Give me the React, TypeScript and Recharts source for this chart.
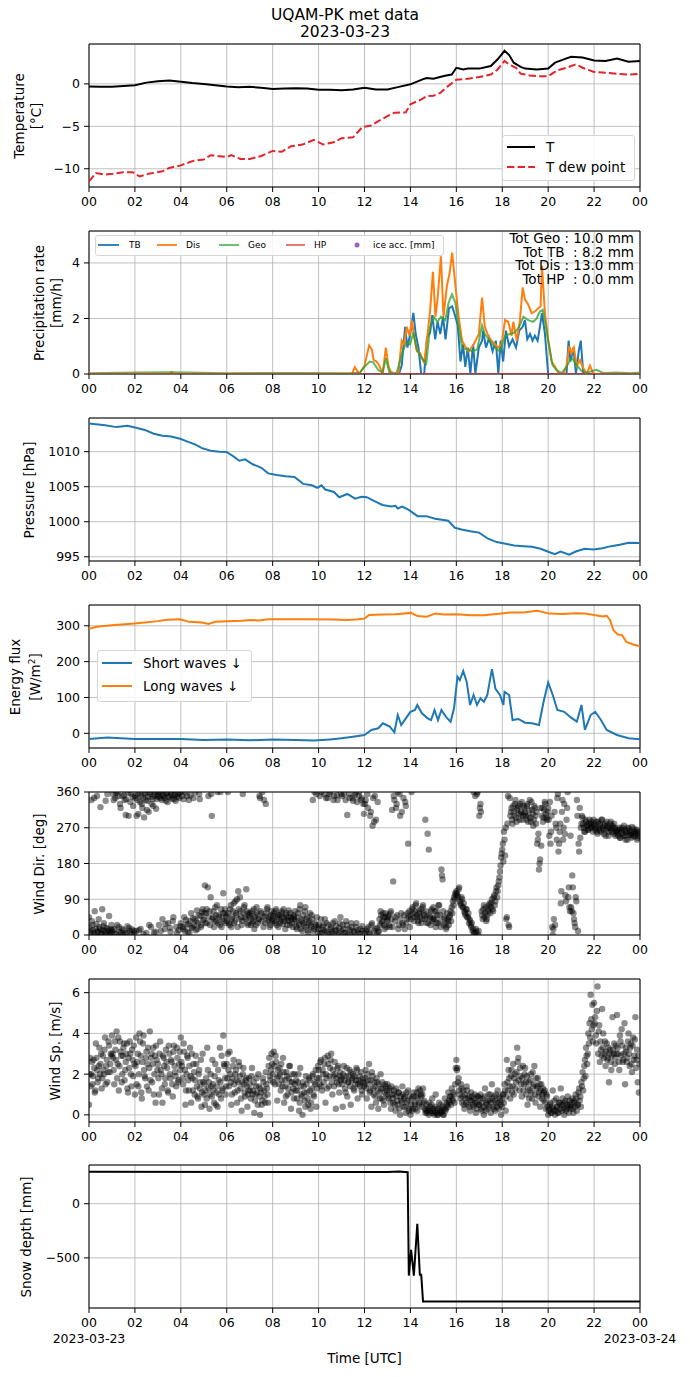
import React from "react"
import { ComposedChart, Line, Scatter, XAxis, YAxis, CartesianGrid, ReferenceArea } from "recharts"

// ---- data (hours UTC) ----
const hourTicks = [0, 2, 4, 6, 8, 10, 12, 14, 16, 18, 20, 22, 24]

const tempHours = [0, 0.5, 1, 1.5, 2, 2.5, 3, 3.5, 4, 4.5, 5, 5.5, 6, 6.5, 7, 7.5, 8, 8.5, 9, 9.5, 10, 10.5, 11, 11.5, 12, 12.5, 13, 13.5, 14, 14.5, 14.7, 15, 15.5, 15.8, 16, 16.3, 16.5, 17, 17.5, 17.8, 18.1, 18.3, 18.5, 18.8, 19, 19.5, 20, 20.3, 20.8, 21, 21.5, 22, 22.5, 23, 23.5, 24]
const tempValues = [-0.3, -0.35, -0.35, -0.25, -0.15, 0.15, 0.3, 0.4, 0.25, 0.1, 0, -0.15, -0.3, -0.4, -0.35, -0.45, -0.6, -0.55, -0.5, -0.55, -0.7, -0.7, -0.75, -0.65, -0.45, -0.65, -0.65, -0.35, -0.05, 0.5, 0.7, 0.6, 0.95, 1.1, 1.9, 1.7, 1.8, 1.8, 2.1, 2.9, 3.9, 3.4, 2.5, 2.0, 1.8, 1.7, 1.8, 2.5, 3.0, 3.2, 3.1, 2.75, 2.7, 3.0, 2.6, 2.7]

const dewHours = [0, 0.3, 0.7, 1.0, 1.5, 1.9, 2.2, 2.6, 3.2, 3.5, 4.0, 4.5, 5.0, 5.3, 5.6, 6.0, 6.2, 6.6, 7.0, 7.5, 8.0, 8.4, 8.8, 9.3, 9.8, 10.2, 10.7, 11.0, 11.5, 11.9, 12.3, 12.6, 13.0, 13.3, 13.8, 14.0, 14.5, 14.7, 15.0, 15.3, 15.6, 16.0, 16.5, 17.0, 17.5, 17.8, 18.1, 18.3, 18.6, 18.8, 19.2, 19.6, 20.0, 20.4, 20.8, 21.2, 21.5, 22.0, 22.5, 23.0, 23.5, 24.0]
const dewValues = [-11.5, -10.5, -10.7, -10.6, -10.4, -10.4, -10.9, -10.6, -10.3, -9.9, -9.6, -9.1, -8.9, -8.4, -8.5, -8.6, -8.4, -8.85, -8.85, -8.5, -7.9, -8.0, -7.35, -7.15, -6.6, -7.15, -6.85, -6.4, -6.3, -5.1, -4.9, -4.4, -3.8, -3.4, -3.35, -2.4, -1.8, -1.45, -1.4, -1.05, -0.35, 0.5, 0.6, 0.8, 1.1, 1.7, 2.7, 2.3, 1.9, 1.2, 1.0, 0.9, 0.9, 1.6, 1.9, 2.3, 1.9, 1.4, 1.3, 1.2, 1.1, 1.2]

const tbHours = [0, 13.5, 13.62, 13.77, 13.87, 13.99, 14.13, 14.23, 14.35, 14.47, 14.6, 14.72, 14.86, 14.95, 15.08, 15.18, 15.3, 15.42, 15.53, 15.68, 15.82, 15.96, 16.06, 16.18, 16.29, 16.39, 16.5, 16.61, 16.73, 16.83, 16.98, 17.12, 17.17, 17.29, 17.43, 17.58, 17.72, 17.83, 17.93, 18.04, 18.16, 18.3, 18.45, 18.6, 18.74, 18.89, 18.99, 19.09, 19.21, 19.32, 19.42, 19.54, 19.64, 19.73, 19.86, 20.0, 20.8, 20.89, 20.97, 21.1, 21.21, 21.33, 21.42, 21.53, 24]
const tbValues = [0, 0, 0.3, 1.7, 0.95, 1.44, 2.2, 1.44, 0.95, 0, 0, 1.3, 1.5, 2.12, 1.25, 1.88, 1.44, 2.06, 1.25, 2.37, 2.43, 2.06, 1.75, 0.45, 1.07, 0.26, 0.95, 0, 1.07, 0, 0.95, 1.2, 1.56, 0.95, 1.3, 0.82, 1.2, 0, 1.2, 0.45, 1.56, 1.0, 1.25, 0.95, 1.56, 1.7, 1.94, 1.25, 1.44, 1.2, 1.38, 1.2, 1.7, 2.19, 1.44, 0, 0, 1.2, 0.45, 0.95, 0, 0.82, 1.2, 0, 0]

const disHours = [0, 3.5, 3.6, 3.7, 11.45, 11.58, 11.77, 12.0, 12.2, 12.32, 12.4, 12.53, 12.67, 12.79, 12.93, 13.04, 13.18, 13.47, 13.62, 13.72, 13.84, 13.96, 14.06, 14.17, 14.28, 14.42, 14.6, 14.74, 14.86, 14.98, 15.09, 15.18, 15.33, 15.44, 15.59, 15.7, 15.82, 15.96, 16.1, 16.25, 16.39, 16.54, 16.76, 16.98, 17.12, 17.24, 17.39, 17.53, 17.68, 17.83, 17.97, 18.12, 18.26, 18.41, 18.48, 18.63, 18.77, 18.89, 18.99, 19.13, 19.28, 19.42, 19.57, 19.67, 19.73, 19.86, 20.0, 20.15, 20.3, 20.44, 20.66, 20.8, 20.92, 21.02, 21.12, 21.24, 21.39, 21.5, 21.68, 21.82, 21.97, 24]
const disValues = [0, 0, 0.08, 0, 0, 0.25, 0, 0.3, 1.03, 0.88, 0.5, 0.45, 0.26, 0, 0.95, 0.3, 0, 0, 1.2, 1.05, 1.7, 1.38, 1.93, 1.3, 0.82, 0.76, 0.38, 1.38, 2.3, 3.68, 2.06, 2.68, 4.24, 2.06, 3.18, 3.6, 4.37, 3.18, 2.06, 1.2, 1.0, 0.82, 1.07, 1.44, 2.75, 1.7, 1.38, 1.2, 1.07, 0.95, 1.07, 1.94, 1.88, 1.38, 1.88, 1.2, 1.94, 3.12, 2.68, 2.5, 2.19, 2.25, 2.37, 2.43, 3.9, 2.19, 1.25, 0.45, 0.26, 0.05, 0, 0.3, 1.0, 0.76, 0.95, 0.3, 0.5, 0.26, 0, 0.3, 0, 0]

const geoHours = [0, 2, 3.6, 6, 9, 11.5, 11.8, 12.0, 12.23, 12.38, 12.6, 12.79, 12.93, 13.08, 13.4, 13.62, 13.81, 13.99, 14.13, 14.28, 14.5, 14.69, 14.86, 15.01, 15.18, 15.33, 15.52, 15.66, 15.81, 15.96, 16.1, 16.25, 16.47, 16.69, 16.91, 17.12, 17.24, 17.46, 17.68, 17.9, 18.12, 18.33, 18.55, 18.74, 18.92, 19.13, 19.35, 19.5, 19.64, 19.76, 19.9, 20.05, 20.19, 20.36, 20.58, 20.8, 21.02, 21.24, 21.46, 21.68, 22.1, 22.4, 23, 23.6, 24]
const geoValues = [0.03, 0.05, 0.06, 0.03, 0.04, 0.03, 0.05, 0.26, 0.45, 0.42, 0.14, 0.05, 0.57, 0.07, 0.03, 0.7, 1.13, 1.07, 1.5, 0.88, 0.57, 0.38, 1.7, 2.06, 1.88, 2.06, 1.94, 2.56, 2.87, 2.56, 1.7, 0.95, 0.88, 0.82, 0.88, 1.75, 1.44, 1.2, 0.95, 0.8, 1.38, 1.44, 1.5, 1.7, 2.06, 1.94, 1.88, 2.0, 2.25, 2.31, 1.7, 0.95, 0.32, 0.14, 0.03, 0.26, 0.6, 0.32, 0.1, 0.05, 0.15, 0.04, 0.05, 0.03, 0.05]

const hpHours = [0, 24]
const hpValues = [0, 0]

const pressHours = [0, 0.7, 1.2, 1.67, 2.05, 2.43, 2.82, 3.2, 3.58, 3.97, 4.35, 4.64, 4.92, 5.3, 5.69, 5.98, 6.26, 6.55, 6.8, 7.13, 7.51, 7.8, 8.18, 8.56, 8.95, 9.33, 9.71, 9.94, 10.13, 10.29, 10.67, 10.9, 11.25, 11.59, 11.86, 12.1, 12.39, 12.78, 13.16, 13.35, 13.45, 13.64, 13.93, 14.31, 14.69, 15.08, 15.65, 15.94, 16.23, 16.61, 16.99, 17.38, 17.76, 18.14, 18.52, 18.91, 19.29, 19.67, 20.06, 20.29, 20.54, 20.92, 21.2, 21.59, 21.97, 22.36, 22.74, 23.12, 23.5, 24]
const pressValues = [1014.0, 1013.77, 1013.5, 1013.7, 1013.4, 1013.1, 1012.56, 1012.27, 1012.17, 1011.84, 1011.35, 1011.0, 1010.5, 1010.14, 1010.0, 1009.95, 1009.4, 1008.7, 1008.9, 1008.2, 1007.7, 1006.9, 1006.67, 1006.5, 1006.4, 1005.4, 1005.2, 1004.83, 1005.2, 1004.6, 1004.25, 1003.5, 1003.96, 1003.3, 1003.57, 1003.5, 1003.0, 1002.4, 1002.17, 1002.27, 1001.9, 1002.17, 1001.7, 1000.8, 1000.8, 1000.43, 1000.15, 999.13, 998.9, 998.65, 998.45, 997.58, 997.1, 996.86, 996.62, 996.52, 996.43, 996.14, 995.65, 995.36, 995.75, 995.3, 995.75, 996.14, 996.04, 996.23, 996.52, 996.71, 997.0, 996.96]

const swHours = [0, 0.8, 2, 4, 5, 6, 7, 8, 9, 9.8, 10.5, 11, 11.5, 12, 12.3, 12.6, 12.8, 13.1, 13.3, 13.45, 13.6, 13.8, 14.0, 14.2, 14.3, 14.5, 14.75, 14.9, 15.05, 15.2, 15.35, 15.55, 15.75, 15.9, 16.05, 16.15, 16.3, 16.45, 16.6, 16.75, 16.9, 17.05, 17.2, 17.35, 17.55, 17.7, 17.9, 18.05, 18.1, 18.3, 18.45, 18.7, 19.0, 19.3, 19.6, 19.8, 20.0, 20.2, 20.4, 20.7, 21.0, 21.25, 21.45, 21.6, 21.85, 22.05, 22.3, 22.55, 23.0, 23.5, 24]
const swValues = [-16, -12, -16, -16, -18.6, -17, -19.5, -17, -18.6, -20.4, -17, -14, -9.3, -4.6, 9.3, 14, 27.9, 18.6, 2.8, 51, 23, 41.8, 60, 65, 79, 55.7, 41.8, 37, 65, 37, 65, 46, 32.5, 69.6, 157.8, 148.6, 173.6, 144, 79, 106.8, 79, 97.5, 88, 106.8, 179, 125, 106.8, 79, 116, 106.8, 37, 40, 29.7, 27.9, 23.2, 88, 142, 106.8, 65, 60, 43.6, 32.5, 79, 9.3, 51, 60, 37, 9.3, -4.6, -14, -16.7]

const lwHours = [0, 0.33, 1.1, 1.86, 2.43, 3.0, 3.4, 3.97, 4.35, 4.92, 5.21, 5.5, 6.07, 6.65, 7.03, 7.41, 7.8, 8.37, 9.52, 10.67, 11.25, 11.72, 12.0, 12.2, 12.78, 13.35, 14.02, 14.31, 14.69, 15.08, 15.46, 16.03, 16.61, 17.18, 17.76, 18.33, 18.91, 19.52, 20.06, 20.63, 21.2, 21.59, 22.07, 22.36, 22.55, 22.7, 22.84, 23.03, 23.22, 23.41, 23.7, 24]
const lwValues = [292, 297, 302, 306, 309, 313, 317, 318, 311, 309, 305, 311, 313, 314, 316, 315, 318, 318, 318, 317.5, 316, 318, 320, 330, 331.5, 332, 336, 327, 325, 334, 331.5, 332, 329.6, 329.6, 333, 337, 337, 341.7, 334, 333, 335, 334, 329.6, 326, 328, 315.7, 288, 275.8, 274, 255, 248, 243]

// wind samples, one row per hour, one value every 3 minutes
const windDirRows = [
  [45, 10, 340, 25, 5, 60, 15, 350, 8, 20, 322, 3, 12, 30, 6, 18, 355, 10, 2, 14],
  [8, 355, 15, 345, 3, 360, 20, 330, 5, 350, 12, 340, 302, 6, 358, 18, 335, 2, 348, 10],
  [350, 10, 340, 305, 358, 15, 330, 345, 296, 355, 5, 338, 310, 360, 20, 348, 325, 352, 8, 342],
  [355, 25, 345, 360, 40, 350, 15, 338, 358, 30, 347, 8, 352, 35, 342, 355, 20, 348, 12, 358],
  [30, 350, 15, 45, 358, 25, 8, 340, 35, 55, 20, 345, 40, 12, 62, 30, 355, 48, 25, 65],
  [40, 125, 55, 30, 350, 60, 95, 300, 45, 20, 70, 35, 360, 50, 25, 65, 40, 105, 55, 30],
  [50, 360, 30, 65, 20, 45, 80, 35, 55, 90, 110, 40, 60, 25, 355, 70, 45, 115, 30, 55],
  [45, 25, 60, 35, 15, 50, 70, 30, 40, 345, 55, 360, 20, 48, 330, 65, 35, 45, 25, 60],
  [40, 55, 30, 65, 45, 20, 50, 35, 60, 28, 42, 15, 55, 38, 62, 25, 45, 30, 50, 40],
  [35, 15, 55, 25, 75, 40, 10, 30, 60, 20, 45, 5, 35, 25, 50, 340, 15, 30, 355, 20],
  [15, 350, 40, 5, 25, 355, 10, 30, 345, 2, 360, 20, 8, 340, 35, 12, 352, 0, 18, 45],
  [10, 25, 355, 5, 35, 302, 15, 345, 0, 20, 338, 8, 358, 30, 12, 350, 3, 340, 22, 330],
  [5, 340, 15, 320, 2, 300, 25, 275, 10, 350, 290, 18, 8, 40, 60, 30, 55, 25, 45, 20],
  [35, 50, 20, 60, 315, 135, 340, 45, 330, 360, 25, 300, 55, 30, 345, 15, 325, 40, 230, 60],
  [50, 360, 70, 35, 60, 80, 45, 30, 55, 65, 40, 75, 50, 290, 30, 255, 215, 45, 60, 35],
  [70, 45, 20, 60, 30, 75, 50, 165, 140, 25, 40, 15, 55, 35, 45, 60, 70, 85, 95, 105],
  [110, 100, 115, 85, 75, 90, 70, 60, 50, 65, 45, 30, 35, 20, 10, 360, 5, 15, 355, 0],
  [300, 330, 60, 40, 75, 55, 35, 50, 65, 80, 70, 90, 60, 100, 85, 120, 110, 135, 160, 195],
  [215, 185, 240, 270, 45, 350, 20, 300, 320, 280, 310, 330, 295, 315, 325, 290, 305, 335, 300, 320],
  [310, 290, 330, 300, 340, 285, 315, 275, 325, 300, 310, 240, 165, 190, 225, 320, 295, 335, 305, 290],
  [320, 250, 230, 300, 0, 40, 25, 270, 345, 210, 260, 80, 310, 240, 330, 100, 290, 360, 120, 60],
  [70, 150, 55, 30, 95, 340, 10, 210, 245, 280, 295, 270, 260, 285, 275, 265, 290, 280, 270, 260],
  [275, 265, 285, 255, 270, 280, 260, 290, 265, 275, 250, 285, 270, 260, 280, 265, 275, 255, 270, 260],
  [260, 250, 270, 245, 265, 255, 275, 250, 262, 240, 268, 258, 252, 272, 248, 260, 256, 265, 245, 250],
]

// second pass of samples, 1.5 minutes after each of the above
const windDirRows2 = [
  [20, 5, 35, 12, 345, 0, 28, 8, 40, 15, 4, 65, 22, 10, 338, 2, 16, 48, 7, 25],
  [12, 340, 2, 358, 25, 350, 8, 320, 16, 0, 352, 5, 342, 22, 300, 10, 356, 14, 325, 4],
  [345, 300, 355, 12, 335, 350, 320, 2, 358, 340, 315, 348, 25, 355, 330, 342, 6, 360, 318, 350],
  [348, 360, 10, 340, 352, 345, 28, 356, 335, 350, 18, 360, 343, 45, 352, 338, 5, 355, 345, 22],
  [360, 20, 342, 10, 38, 350, 28, 5, 352, 18, 42, 25, 360, 35, 15, 50, 342, 20, 58, 38],
  [55, 30, 65, 120, 45, 25, 355, 40, 60, 35, 50, 75, 30, 45, 360, 20, 55, 35, 65, 45],
  [35, 55, 25, 75, 40, 60, 30, 85, 50, 20, 65, 95, 45, 35, 55, 75, 40, 60, 25, 50],
  [55, 40, 30, 65, 45, 25, 55, 40, 350, 60, 35, 45, 340, 30, 55, 70, 40, 20, 50, 35],
  [48, 35, 60, 25, 50, 40, 30, 55, 45, 65, 35, 50, 25, 45, 35, 55, 40, 20, 45, 60],
  [20, 45, 30, 65, 15, 35, 50, 25, 70, 40, 12, 30, 55, 20, 40, 10, 360, 25, 45, 5],
  [25, 5, 360, 20, 12, 40, 345, 8, 25, 355, 15, 3, 30, 350, 10, 22, 340, 5, 30, 355],
  [350, 15, 5, 340, 25, 0, 355, 12, 30, 345, 8, 352, 20, 335, 5, 360, 15, 345, 10, 305],
  [330, 10, 355, 20, 5, 310, 30, 345, 285, 15, 0, 335, 10, 25, 50, 35, 45, 15, 55, 40],
  [45, 25, 55, 40, 20, 350, 35, 320, 50, 15, 355, 40, 310, 25, 50, 335, 30, 55, 45, 20],
  [40, 65, 55, 45, 75, 50, 35, 60, 45, 30, 70, 55, 40, 60, 45, 30, 50, 25, 65, 40],
  [40, 60, 30, 50, 75, 35, 20, 150, 60, 45, 30, 20, 40, 25, 50, 35, 55, 75, 90, 100],
  [105, 95, 120, 80, 95, 70, 80, 55, 65, 45, 55, 40, 25, 30, 15, 5, 350, 8, 360, 10],
  [320, 310, 50, 65, 45, 70, 40, 60, 75, 55, 80, 65, 95, 75, 110, 95, 125, 145, 175, 205],
  [230, 260, 200, 40, 280, 25, 345, 310, 290, 325, 300, 340, 285, 320, 305, 330, 310, 290, 325, 305],
  [300, 325, 285, 315, 295, 335, 305, 290, 320, 280, 230, 255, 180, 320, 300, 285, 315, 330, 295, 310],
  [290, 335, 260, 20, 15, 310, 280, 240, 355, 230, 280, 110, 340, 270, 255, 85, 320, 95, 70, 250],
  [60, 120, 40, 20, 85, 300, 230, 320, 270, 300, 280, 260, 290, 275, 265, 280, 270, 285, 275, 290],
  [280, 270, 260, 285, 265, 275, 290, 270, 255, 280, 265, 275, 250, 270, 285, 260, 270, 280, 250, 265],
  [255, 265, 245, 260, 270, 250, 265, 240, 258, 270, 252, 262, 245, 255, 268, 250, 262, 240, 255, 260],
]

const windSpRows = [
  [0.5, 2.8, 2.0, 1.5, 2.7, 1.1, 3.5, 2.2, 1.8, 3.3, 2.5, 1.3, 2.9, 2.0, 3.8, 2.4, 1.6, 3.6, 2.1, 3.0],
  [3.9, 2.8, 1.5, 3.2, 4.1, 2.5, 1.2, 3.6, 2.9, 2.0, 3.3, 1.7, 2.6, 3.5, 1.1, 2.3, 3.0, 1.4, 2.7, 3.4],
  [1.0, 3.8, 2.6, 1.4, 4.0, 2.9, 0.8, 3.5, 2.2, 1.8, 3.1, 2.5, 1.2, 4.1, 2.8, 1.6, 3.3, 2.0, 0.6, 2.7],
  [2.5, 1.0, 3.6, 2.0, 0.6, 2.8, 1.5, 3.2, 2.3, 1.1, 3.0, 1.8, 2.6, 0.9, 3.4, 2.1, 1.4, 2.8, 1.7, 3.1],
  [3.8, 2.4, 1.5, 3.1, 0.5, 2.0, 2.8, 1.2, 3.3, 0.6, 1.8, 2.5, 1.0, 2.9, 1.4, 0.8, 2.2, 1.6, 0.4, 3.0],
  [1.0, 0.5, 1.8, 3.3, 1.3, 0.3, 2.0, 0.9, 1.5, 0.6, 2.5, 1.1, 0.4, 1.7, 3.3, 0.8, 1.2, 3.9, 2.4, 1.0],
  [2.5, 3.0, 1.4, 2.0, 0.5, 1.8, 2.7, 1.1, 2.2, 0.6, 1.6, 2.4, 1.3, 0.2, 2.0, 1.5, 0.9, 1.8, 0.4, 1.2],
  [1.5, 0.8, 2.3, 1.2, 0.1, 1.0, 1.8, 0.5, 1.4, 0.0, 1.1, 0.7, 1.6, 0.9, 2.1, 1.3, 0.6, 2.8, 1.7, 3.0],
  [2.0, 3.1, 1.5, 2.6, 0.7, 1.9, 2.3, 1.2, 1.7, 2.8, 0.6, 1.4, 2.1, 1.0, 1.8, 2.4, 0.3, 1.6, 1.3, 2.0],
  [1.2, 0.8, 1.6, 0.2, 2.3, 1.0, 0.0, 1.4, 0.7, 1.9, 1.1, 0.5, 1.7, 0.3, 1.3, 2.0, 0.9, 1.5, 0.4, 1.8],
  [2.2, 1.5, 2.7, 1.2, 2.0, 2.5, 0.6, 1.8, 2.9, 1.4, 2.3, 3.0, 1.0, 1.9, 2.6, 0.3, 1.6, 2.4, 1.1, 2.1],
  [1.8, 0.4, 2.4, 1.3, 1.9, 0.9, 1.6, 2.2, 0.5, 1.7, 2.0, 1.2, 1.5, 2.3, 0.8, 1.7, 1.4, 2.1, 1.0, 1.6],
  [1.5, 2.2, 0.8, 1.7, 2.5, 1.2, 0.4, 1.9, 1.0, 1.4, 0.6, 1.6, 0.3, 1.1, 2.0, 0.8, 1.3, 0.5, 1.5, 1.0],
  [1.5, 0.8, 1.3, 0.3, 1.0, 0.6, 1.2, 0.2, 0.9, 0.5, 1.1, 0.0, 0.7, 1.4, 0.4, 0.9, 0.1, 0.6, 1.2, 0.3],
  [0.0, 0.8, 0.3, 1.1, 0.5, 0.9, 0.2, 1.3, 0.6, 1.0, 0.4, 1.3, 0.7, 0.1, 0.5, 0.2, 0.0, 0.4, 0.1, 0.8],
  [0.1, 0.0, 1.0, 0.3, 0.0, 0.6, 0.2, 0.1, 0.4, 0.0, 0.8, 0.3, 0.5, 1.1, 0.6, 0.9, 1.3, 0.7, 1.0, 1.5],
  [2.7, 2.3, 1.8, 1.0, 1.5, 0.6, 1.2, 0.3, 0.8, 1.4, 0.5, 0.9, 0.2, 1.1, 0.7, 0.4, 1.0, 0.1, 0.6, 0.9],
  [0.5, 1.0, 0.2, 0.8, 0.0, 1.3, 0.6, 0.3, 1.0, 0.7, 0.1, 1.5, 0.4, 0.9, 0.2, 0.6, 1.2, 0.3, 0.8, 0.0],
  [0.4, 1.0, 1.5, 0.2, 2.7, 1.2, 1.8, 0.8, 2.2, 1.4, 1.0, 2.0, 1.6, 3.3, 2.8, 1.2, 1.9, 0.9, 2.4, 1.5],
  [2.3, 1.0, 0.5, 1.6, 1.2, 2.0, 0.8, 1.4, 2.4, 0.6, 1.3, 1.8, 1.1, 0.4, 1.5, 1.0, 0.7, 1.2, 0.3, 0.9],
  [0.0, 0.3, 0.6, 0.1, 1.2, 0.2, 0.0, 0.8, 0.4, 0.1, 0.6, 1.3, 0.2, 0.5, 0.0, 0.7, 0.3, 0.9, 0.1, 0.5],
  [0.4, 0.8, 0.1, 0.6, 1.0, 0.2, 0.5, 1.3, 0.9, 1.6, 2.1, 1.8, 2.7, 3.3, 2.5, 4.0, 4.5, 5.9, 4.2, 3.6],
  [5.5, 4.8, 3.5, 6.3, 4.1, 2.6, 3.2, 5.2, 4.0, 3.0, 2.4, 3.5, 2.8, 1.6, 3.2, 2.2, 4.8, 3.0, 2.5, 3.4],
  [4.9, 3.0, 2.2, 3.6, 4.2, 2.6, 3.0, 1.5, 3.3, 2.8, 4.0, 2.4, 3.5, 2.1, 3.8, 2.9, 4.8, 2.7, 1.6, 1.1],
]

const windSpRows2 = [
  [2.0, 1.4, 2.6, 1.9, 2.3, 1.2, 2.8, 1.6, 2.4, 2.0, 3.0, 1.8, 2.2, 3.2, 1.5, 2.7, 2.1, 3.4, 2.5, 2.9],
  [3.0, 2.2, 3.6, 2.7, 1.8, 3.8, 2.4, 3.1, 1.6, 2.9, 3.5, 2.2, 3.0, 1.3, 2.8, 3.6, 2.0, 3.2, 1.9, 2.5],
  [2.4, 1.5, 3.0, 2.0, 3.6, 1.1, 2.6, 3.9, 1.9, 2.8, 1.4, 3.3, 2.3, 1.7, 3.0, 2.5, 1.0, 2.9, 3.4, 2.2],
  [1.8, 3.0, 2.2, 1.3, 2.9, 2.4, 1.8, 2.6, 1.2, 3.4, 2.0, 2.7, 1.5, 3.1, 2.4, 1.9, 3.3, 1.6, 2.5, 2.2],
  [2.6, 1.8, 3.5, 2.2, 1.2, 2.9, 1.7, 2.4, 1.9, 3.0, 1.2, 2.1, 1.7, 2.5, 0.9, 2.0, 1.3, 2.7, 1.1, 1.6],
  [1.5, 1.2, 0.8, 2.2, 1.6, 1.0, 1.4, 2.7, 1.2, 1.9, 0.5, 1.4, 2.2, 1.0, 1.6, 2.9, 1.3, 2.5, 1.8, 1.4],
  [1.8, 2.2, 3.1, 1.6, 1.0, 2.4, 1.5, 2.0, 1.7, 1.2, 2.6, 1.9, 0.8, 1.6, 2.3, 1.1, 1.7, 1.4, 1.0, 1.8],
  [1.2, 1.9, 1.0, 1.6, 0.7, 1.4, 1.1, 2.0, 0.9, 1.3, 0.5, 1.8, 1.2, 0.6, 1.5, 1.0, 2.4, 1.9, 2.2, 2.5],
  [1.6, 2.4, 2.9, 1.8, 2.2, 1.5, 2.0, 2.5, 1.4, 2.1, 1.7, 0.9, 1.9, 1.3, 2.4, 1.6, 1.1, 2.0, 0.8, 1.5],
  [1.7, 1.2, 2.0, 0.6, 1.4, 0.9, 1.6, 1.1, 0.4, 1.5, 0.8, 1.8, 1.2, 0.6, 1.9, 1.0, 1.6, 2.2, 1.3, 2.4],
  [1.8, 2.6, 1.4, 2.2, 1.6, 2.8, 2.0, 1.3, 2.5, 1.9, 2.7, 1.6, 2.2, 1.4, 2.0, 1.8, 2.3, 1.5, 1.9, 1.7],
  [1.5, 2.0, 1.7, 1.1, 2.3, 1.6, 1.9, 1.4, 2.1, 1.8, 1.3, 1.9, 1.7, 2.2, 1.5, 1.9, 1.6, 1.2, 1.8, 1.4],
  [1.8, 1.3, 2.0, 1.5, 1.1, 1.7, 2.1, 1.3, 1.6, 0.9, 1.8, 1.2, 1.5, 0.8, 1.3, 1.6, 0.7, 1.1, 1.4, 1.2],
  [0.9, 1.2, 0.6, 1.4, 0.8, 1.0, 0.5, 1.3, 0.7, 1.1, 0.3, 0.9, 0.6, 1.0, 0.8, 0.4, 1.1, 0.7, 0.2, 0.9],
  [0.5, 0.2, 0.9, 0.6, 0.3, 1.1, 0.8, 0.5, 1.2, 0.9, 1.0, 0.6, 0.3, 0.2, 0.1, 0.3, 0.6, 0.2, 0.5, 0.3],
  [0.2, 0.4, 0.1, 0.0, 0.3, 0.1, 0.5, 0.2, 0.0, 0.3, 0.2, 0.6, 0.4, 0.7, 0.9, 0.5, 0.8, 1.1, 0.6, 2.3],
  [2.2, 1.6, 1.2, 0.8, 1.3, 0.9, 0.5, 1.0, 0.6, 1.2, 0.8, 0.4, 0.7, 0.9, 0.5, 0.8, 0.6, 0.3, 0.9, 0.5],
  [0.8, 0.3, 0.6, 0.4, 0.9, 0.2, 0.5, 0.7, 0.4, 1.0, 0.6, 0.8, 0.3, 0.7, 1.0, 0.4, 0.6, 0.9, 0.5, 0.7],
  [1.0, 0.6, 1.2, 0.9, 1.6, 2.2, 1.4, 1.9, 1.1, 2.5, 1.8, 1.3, 2.1, 2.6, 1.7, 2.3, 1.5, 1.8, 1.2, 2.0],
  [1.6, 1.9, 1.3, 0.8, 1.7, 1.1, 2.1, 1.5, 1.0, 1.8, 1.4, 0.9, 1.5, 1.2, 0.8, 1.3, 1.1, 0.6, 1.0, 0.4],
  [0.2, 0.5, 0.1, 0.4, 0.3, 0.7, 0.2, 0.4, 0.1, 0.6, 0.3, 0.5, 0.8, 0.3, 0.6, 0.2, 0.5, 0.4, 0.7, 0.3],
  [0.6, 0.3, 0.7, 0.4, 0.8, 0.5, 1.1, 0.7, 0.4, 1.4, 1.2, 2.4, 1.9, 2.9, 3.0, 3.5, 3.8, 4.7, 5.4, 4.4],
  [4.5, 3.9, 5.1, 3.0, 4.4, 3.6, 2.9, 3.3, 2.8, 3.6, 3.1, 2.7, 3.3, 3.0, 2.6, 2.9, 3.2, 3.5, 2.8, 3.0],
  [3.3, 2.6, 3.9, 2.9, 3.4, 2.7, 4.5, 3.1, 2.6, 3.6, 3.0, 3.3, 2.5, 3.4, 2.7, 3.7, 2.3, 3.2, 2.9, 2.5],
]

const snowHours = [0, 13.0, 13.5, 13.88, 13.93, 14.03, 14.15, 14.3, 14.41, 14.47, 14.55, 24]
const snowValues = [295, 292, 296, 290, -663, -426, -663, -185, -655, -655, -902, -902]

const totLines = ["Tot Geo : 10.0 mm", "Tot TB  : 8.2 mm", "Tot Dis : 13.0 mm", "Tot HP  : 0.0 mm"]

// ---- layout ----
const FONT = "'DejaVu Sans', sans-serif"
const W = 690
const PLOT_LEFT = 89
const PLOT_RIGHT = 640
const PLOT_H = 143
const PAD_TOP = 10
const TICK_FS = 12.5
const LABEL_FS = 13.5

const toPts = (hs: number[], vs: number[]) => hs.map((h, i) => ({ h, v: vs[i] }))
const rowsToPts = (rows: number[][], shift = 0) =>
  rows.flatMap((row, hr) => row.map((v, i) => ({ h: hr + (i + shift) / row.length, v })))
const fmtHour = (h: number) => String(h % 24).padStart(2, "0")
const fmtY = (v: number) => String(v).replace("-", "\u2212")

const DateTick = (props: any) => {
  const { x, y, payload } = props
  const v = payload.value
  const common = { x, textAnchor: "middle" as const, fill: "#000", fontSize: TICK_FS, fontFamily: FONT }
  return (
    <g>
      <text {...common} y={y} dy="0.71em">{fmtHour(v)}</text>
      {v === 0 && <text {...common} y={y + 16} dy="0.71em">2023-03-23</text>}
      {v === 24 && <text {...common} y={y + 16} dy="0.71em">2023-03-24</text>}
    </g>
  )
}

const dot = (p: any) => <circle cx={p.cx} cy={p.cy} r={3.2} fill="#000" fillOpacity={0.45} />

interface PanelProps {
  top: number
  yDomain: [number, number]
  yTicks: number[]
  last?: boolean
  children: React.ReactNode
}

function Panel({ top, yDomain, yTicks, last, children }: PanelProps) {
  const xH = last ? 60 : 30
  return (
    <div style={{ position: "absolute", left: 0, top: top - PAD_TOP }}>
      <ComposedChart
        width={W}
        height={PAD_TOP + PLOT_H + xH}
        margin={{ top: PAD_TOP, right: W - PLOT_RIGHT, bottom: 0, left: 0 }}
      >
        <CartesianGrid stroke="#b0b0b0" strokeWidth={0.8} />
        <XAxis
          type="number"
          dataKey="h"
          domain={[0, 24]}
          ticks={hourTicks}
          interval={0}
          allowDataOverflow
          height={xH}
          axisLine={false}
          tickSize={5}
          tickMargin={5}
          tickLine={{ stroke: "#000" }}
          tickFormatter={fmtHour}
          tick={last ? <DateTick /> : { fill: "#000", fontSize: TICK_FS, fontFamily: FONT }}
        />
        <YAxis
          type="number"
          dataKey="v"
          domain={yDomain}
          ticks={yTicks}
          interval={0}
          allowDataOverflow
          width={PLOT_LEFT}
          axisLine={false}
          tickSize={5}
          tickMargin={4}
          tickLine={{ stroke: "#000" }}
          tickFormatter={fmtY}
          tick={{ fill: "#000", fontSize: TICK_FS, fontFamily: FONT }}
        />
        {children}
        <ReferenceArea
          x1={0}
          x2={24}
          y1={yDomain[0]}
          y2={yDomain[1]}
          fill="none"
          stroke="#000"
          strokeWidth={1}
          ifOverflow="visible"
        />
      </ComposedChart>
    </div>
  )
}

const YTitle = ({ x, y, children }: { x: number; y: number; children: React.ReactNode }) => (
  <div
    style={{
      position: "absolute",
      left: x,
      top: y,
      transform: "translate(-50%, -50%) rotate(-90deg)",
      whiteSpace: "nowrap",
      fontSize: LABEL_FS,
      fontFamily: FONT,
      lineHeight: 1,
    }}
  >
    {children}
  </div>
)

const Handle = ({ color, dash, w = 28, sw = 2, opacity = 1 }: any) => (
  <svg width={w} height={6} style={{ display: "block" }}>
    <line x1={0} y1={3} x2={w} y2={3} stroke={color} strokeWidth={sw} strokeDasharray={dash} strokeOpacity={opacity} />
  </svg>
)

const legendBox: React.CSSProperties = {
  position: "absolute",
  background: "rgba(255,255,255,0.85)",
  border: "1px solid #d6d6d6",
  borderRadius: 3,
  fontFamily: FONT,
}

const row = (left: number, top: number): React.CSSProperties => ({
  position: "absolute",
  left,
  top,
  display: "flex",
  alignItems: "center",
  whiteSpace: "nowrap",
})

export default function App() {
  const tops = [44, 231, 418, 605, 792, 979, 1165]
  const mid = (i: number) => tops[i] + PLOT_H / 2

  return (
    <div style={{ position: "absolute", left: 0, top: 0, width: W, height: 1377, background: "#fff", overflow: "hidden" }}>
      <div style={{ position: "absolute", left: 0, width: W, top: 7, textAlign: "center", fontFamily: FONT, fontSize: 15.5, lineHeight: "17px" }}>
        <div>UQAM-PK met data</div>
        <div>2023-03-23</div>
      </div>

      <Panel top={tops[0]} yDomain={[-12.15, 4.7]} yTicks={[-10, -5, 0]}>
        <Line data={toPts(tempHours, tempValues)} dataKey="v" stroke="#000" strokeWidth={2} dot={false} isAnimationActive={false} />
        <Line data={toPts(dewHours, dewValues)} dataKey="v" stroke="#e3242b" strokeWidth={2} strokeDasharray="7.4 3.2" dot={false} isAnimationActive={false} />
      </Panel>

      <Panel top={tops[1]} yDomain={[0, 5.15]} yTicks={[0, 2, 4]}>
        <Line data={toPts(tbHours, tbValues)} dataKey="v" stroke="#1f77b4" strokeWidth={2} dot={false} isAnimationActive={false} />
        <Line data={toPts(disHours, disValues)} dataKey="v" stroke="#ff7f0e" strokeWidth={2} dot={false} isAnimationActive={false} />
        <Line data={toPts(geoHours, geoValues)} dataKey="v" stroke="#2ca02c" strokeOpacity={0.75} strokeWidth={2} dot={false} isAnimationActive={false} />
        <Line data={toPts(hpHours, hpValues)} dataKey="v" stroke="#d62728" strokeOpacity={0.7} strokeWidth={2} dot={false} isAnimationActive={false} />
      </Panel>

      <Panel top={tops[2]} yDomain={[994.4, 1014.8]} yTicks={[995, 1000, 1005, 1010]}>
        <Line data={toPts(pressHours, pressValues)} dataKey="v" stroke="#1f77b4" strokeWidth={2} dot={false} isAnimationActive={false} />
      </Panel>

      <Panel top={tops[3]} yDomain={[-41, 358]} yTicks={[0, 100, 200, 300]}>
        <Line data={toPts(swHours, swValues)} dataKey="v" stroke="#1f77b4" strokeWidth={2} dot={false} isAnimationActive={false} />
        <Line data={toPts(lwHours, lwValues)} dataKey="v" stroke="#ff7f0e" strokeWidth={2} dot={false} isAnimationActive={false} />
      </Panel>

      <Panel top={tops[4]} yDomain={[0, 360]} yTicks={[0, 90, 180, 270, 360]}>
        <Scatter data={rowsToPts(windDirRows)} dataKey="v" shape={dot} isAnimationActive={false} />
        <Scatter data={rowsToPts(windDirRows2, 0.5)} dataKey="v" shape={dot} isAnimationActive={false} />
      </Panel>

      <Panel top={tops[5]} yDomain={[-0.35, 6.67]} yTicks={[0, 2, 4, 6]}>
        <Scatter data={rowsToPts(windSpRows)} dataKey="v" shape={dot} isAnimationActive={false} />
        <Scatter data={rowsToPts(windSpRows2, 0.5)} dataKey="v" shape={dot} isAnimationActive={false} />
      </Panel>

      <Panel top={tops[6]} yDomain={[-962, 357]} yTicks={[-500, 0]} last>
        <Line data={toPts(snowHours, snowValues)} dataKey="v" stroke="#000" strokeWidth={2} dot={false} isAnimationActive={false} />
      </Panel>

      {/* axis titles */}
      <YTitle x={20} y={mid(0)}>Temperature</YTitle>
      <YTitle x={37} y={mid(0)}>[°C]</YTitle>
      <YTitle x={40} y={mid(1)}>Precipitation rate</YTitle>
      <YTitle x={57} y={mid(1)}>[mm/h]</YTitle>
      <YTitle x={30} y={mid(2)}>Pressure [hPa]</YTitle>
      <YTitle x={16} y={mid(3)}>Energy flux</YTitle>
      <YTitle x={35} y={mid(3)}>
        [W/m<sup style={{ fontSize: 9, verticalAlign: 5 }}>2</sup>]
      </YTitle>
      <YTitle x={40} y={mid(4)}>Wind Dir. [deg]</YTitle>
      <YTitle x={56} y={mid(5)}>Wind Sp. [m/s]</YTitle>
      <YTitle x={27} y={mid(6)}>Snow depth [mm]</YTitle>
      <div style={{ position: "absolute", left: (PLOT_LEFT + PLOT_RIGHT) / 2, top: 1358, transform: "translate(-50%, -50%)", fontFamily: FONT, fontSize: LABEL_FS, whiteSpace: "nowrap" }}>
        Time [UTC]
      </div>

      {/* temperature legend */}
      <div style={{ ...legendBox, left: 502, top: 135, width: 131, height: 44 }}>
        <div style={{ ...row(4, 3), fontSize: LABEL_FS }}>
          <Handle color="#000" />
          <span style={{ marginLeft: 11 }}>T</span>
        </div>
        <div style={{ ...row(4, 23), fontSize: LABEL_FS }}>
          <Handle color="#e3242b" dash="7.4 3.2" />
          <span style={{ marginLeft: 11 }}>T dew point</span>
        </div>
      </div>

      {/* precipitation legend */}
      <div style={{ ...legendBox, left: 95, top: 235, width: 347, height: 19, fontSize: 9 }}>
        <div style={row(2, 4)}>
          <Handle color="#1f77b4" w={21} sw={1.8} />
          <span style={{ marginLeft: 10 }}>TB</span>
        </div>
        <div style={row(61, 4)}>
          <Handle color="#ff7f0e" w={20} sw={1.8} />
          <span style={{ marginLeft: 9 }}>Dis</span>
        </div>
        <div style={row(123, 4)}>
          <Handle color="#2ca02c" opacity={0.75} w={20} sw={1.8} />
          <span style={{ marginLeft: 9 }}>Geo</span>
        </div>
        <div style={row(190, 4)}>
          <Handle color="#d62728" opacity={0.7} w={19} sw={1.8} />
          <span style={{ marginLeft: 9 }}>HP</span>
        </div>
        <div style={row(258, 4)}>
          <svg width={6} height={6} style={{ display: "block" }}>
            <circle cx={3} cy={3} r={2.5} fill="#9467bd" />
          </svg>
          <span style={{ marginLeft: 13 }}>ice acc. [mm]</span>
        </div>
      </div>

      {/* precipitation totals */}
      <div style={{ position: "absolute", right: W - 634, top: 232, textAlign: "right", whiteSpace: "pre", fontFamily: FONT, fontSize: LABEL_FS, lineHeight: "13.7px" }}>
        {totLines.map((t) => (
          <div key={t}>{t}</div>
        ))}
      </div>

      {/* energy legend */}
      <div style={{ ...legendBox, left: 97, top: 650, width: 153, height: 50 }}>
        <div style={{ ...row(4, 4), fontSize: LABEL_FS }}>
          <Handle color="#1f77b4" w={30} />
          <span style={{ marginLeft: 11 }}>Short waves ↓</span>
        </div>
        <div style={{ ...row(4, 27), fontSize: LABEL_FS }}>
          <Handle color="#ff7f0e" w={30} />
          <span style={{ marginLeft: 11 }}>Long waves ↓</span>
        </div>
      </div>
    </div>
  )
}
